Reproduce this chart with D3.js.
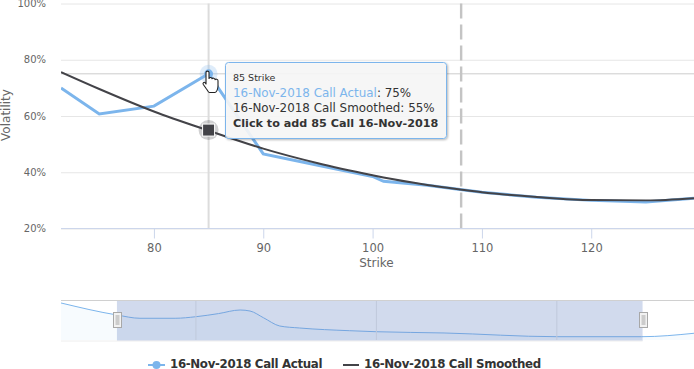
<!DOCTYPE html>
<html><head><meta charset="utf-8">
<script src="https://cdn.jsdelivr.net/npm/d3@7"></script>
<style>html,body{margin:0;padding:0;background:#fff;overflow:hidden}svg{display:block}text{font-family:"DejaVu Sans",sans-serif}</style>
</head><body><svg id="c" width="694" height="369"></svg>
<script>
const strikes=[71.5,75,80,85,90,95,100,101,105,108,110,115,120,125,129.4];
const actual=[70,60.7,63.5,75,46.5,42.5,38.5,36.8,35.4,33.9,32.9,31.1,30,29.4,30.8];
const smoothed=[75.6,69.6,61.6,54.8,48.4,43.2,38.9,38.1,35.5,33.9,32.9,31.2,30.1,30,30.8];
const navStrikes=[65.05,71.25,73.8,77.7,80,82.5,84.9,86,87.5,89.3,91.5,97,100,107.5,120,129.4,135.2];
const navValues=[86.7,66.7,61.2,61.2,63.8,69,75,73.3,62,48.3,45,40.5,38.8,36.7,30.5,30.5,36.2];
const yTicks=[20,40,60,80,100];
const xTicks=[80,90,100,110,120];
const navTicks=[80,100,120];
const names=["16-Nov-2018 Call Actual","16-Nov-2018 Call Smoothed"];
const hover={strike:85,actual:75,smoothed:55};
const spot=108.1, crossY=75, selection=[71.25,129.5];
const colA="#7cb5ec",colS="#434348",grid="#e6e6e6",axis="#ccd6eb",lab="#666666";

const svg=d3.select("#c");
const x=d3.scaleLinear().domain([71.5,129.4]).range([61,694]);
const y=d3.scaleLinear().domain([20,100]).range([228.5,3.5]);
const nx=d3.scaleLinear().domain([65.05,135.2]).range([61,694]);
const ny=d3.scaleLinear().domain([20,100]).range([343,295]);
const defs=svg.append("defs");
defs.append("clipPath").attr("id","p").append("rect").attr("x",61).attr("y",0).attr("width",633).attr("height",229);
const f=defs.append("filter").attr("id","s").attr("x","-5%").attr("y","-10%").attr("width","112%").attr("height","125%");
f.append("feDropShadow").attr("dx",1).attr("dy",1).attr("stdDeviation",1.2).attr("flood-color","#000").attr("flood-opacity",.3);

// y grid + labels
const ya=d3.axisLeft(y).tickValues(yTicks).tickSize(-633).tickPadding(15).tickFormat(d=>d+"%");
const yg=svg.append("g").attr("transform","translate(61,0)").call(ya);
yg.select(".domain").remove();
yg.selectAll("line").attr("stroke",grid);
yg.selectAll("text").attr("fill",lab).attr("font-size",10).attr("x",-15).attr("dy",".32em");
svg.append("text").attr("transform","translate(10,115) rotate(-90)").attr("text-anchor","middle").attr("fill",lab).attr("font-size",12).text("Volatility");

// x axis
const xa=d3.axisBottom(x).tickValues(xTicks).tickSize(10).tickPadding(5).tickFormat(d3.format("d"));
const xg=svg.append("g").attr("transform","translate(0,228.5)").call(xa);
xg.select(".domain").attr("stroke",axis).attr("d","M61,0H694");
xg.selectAll("line").attr("stroke",axis);
xg.selectAll("text").attr("fill",lab).attr("font-size",11.5);
svg.append("text").attr("x",376.5).attr("y",267).attr("text-anchor","middle").attr("fill",lab).attr("font-size",12).text("Strike");

// crosshairs, spot
svg.append("line").attr("x1",x(hover.strike)).attr("x2",x(hover.strike)).attr("y1",3.5).attr("y2",228).attr("stroke","#dcdcdc").attr("stroke-width",2);
svg.append("line").attr("x1",61).attr("x2",694).attr("y1",y(crossY)).attr("y2",y(crossY)).attr("stroke","#cccccc");
svg.append("line").attr("x1",x(spot)).attr("x2",x(spot)).attr("y1",3.5).attr("y2",228).attr("stroke","#c4c4c4").attr("stroke-width",2.4).attr("stroke-dasharray","15 6");

// series
const line=(xs,ys,sx,sy)=>d3.line().x((d,i)=>sx(xs[i])).y((d,i)=>sy(ys[i]))(xs);
const pl=svg.append("g").attr("clip-path","url(#p)");
pl.append("path").attr("d",line(strikes,actual,x,y)).attr("fill","none").attr("stroke",colA).attr("stroke-width",3);
const smoothLine=d3.line().curve(d3.curveMonotoneX).x((d,i)=>x(strikes[i])).y((d,i)=>y(smoothed[i]));
pl.append("path").attr("d",smoothLine(strikes)).attr("fill","none").attr("stroke",colS).attr("stroke-width",2);

// hover markers
const hx=x(hover.strike);
svg.append("circle").attr("cx",hx).attr("cy",y(hover.actual)).attr("r",9).attr("fill",colA).attr("opacity",.25);
svg.append("circle").attr("cx",hx).attr("cy",y(hover.actual)).attr("r",4.5).attr("fill",colA);
svg.append("circle").attr("cx",hx).attr("cy",y(hover.smoothed)).attr("r",10).attr("fill",colS).attr("opacity",.25);
svg.append("rect").attr("x",hx-6).attr("y",y(hover.smoothed)-6).attr("width",12).attr("height",12).attr("fill",colS).attr("stroke","#fff");

// tooltip
svg.append("rect").attr("x",225.5).attr("y",62.5).attr("width",221).attr("height",76).attr("rx",3).attr("fill","#f9f9f9").attr("fill-opacity",.88).attr("stroke",colA).attr("stroke-width",1).attr("filter","url(#s)");
const tt=svg.append("g").attr("fill","#333").attr("font-size",11.9);
tt.append("text").attr("x",233).attr("y",81).attr("font-size",9.5).text(hover.strike+" Strike");
const t1=tt.append("text").attr("x",233).attr("y",97);
t1.append("tspan").attr("fill",colA).text(names[0]);t1.append("tspan").text(": "+hover.actual+"%");
tt.append("text").attr("x",233).attr("y",112).text(names[1]+": "+hover.smoothed+"%");
tt.append("text").attr("x",233).attr("y",127).attr("font-weight","bold").attr("font-size",11.2).text("Click to add "+hover.strike+" Call 16-Nov-2018");

// cursor
svg.append("path").attr("transform","translate(203,70)").attr("fill","#fff").attr("stroke","#222").attr("stroke-width",1.1).attr("stroke-linejoin","round")
 .attr("d","M3,2.5C3,.6 6,.6 6,2.5V8.5C6.5,7.2 9,7.2 9,8.8C9.5,7.8 12,7.9 12,9.6C12.6,8.8 15,9 15,10.8V16C15,19 13.5,22.5 12,22.5H6.5C5.3,22.5 4.8,20.5 3.5,19L.3,14.5C-.6,13 1,11.5 2.2,12.8L3,14Z");

// navigator
const nl=d3.line().curve(d3.curveMonotoneX).x((d,i)=>nx(navStrikes[i])).y((d,i)=>ny(navValues[i]));
const na=d3.area().curve(d3.curveMonotoneX).x((d,i)=>nx(navStrikes[i])).y0(340).y1((d,i)=>ny(navValues[i]));
svg.append("line").attr("x1",61).attr("x2",694).attr("y1",300.5).attr("y2",300.5).attr("stroke","#d0d0d0");
svg.append("path").attr("d",na(navStrikes)).attr("fill",colA).attr("fill-opacity",.06);
svg.append("path").attr("d",nl(navStrikes)).attr("fill","none").attr("stroke",colA).attr("stroke-width",1);
svg.append("g").selectAll("line").data(navTicks).join("line").attr("x1",d=>nx(d)).attr("x2",d=>nx(d)).attr("y1",301).attr("y2",340).attr("stroke","#e6e6e6");
svg.append("rect").attr("x",nx(selection[0])).attr("y",301).attr("width",nx(selection[1])-nx(selection[0])).attr("height",40).attr("fill","#6685c2").attr("fill-opacity",.3);
svg.append("line").attr("x1",61).attr("x2",nx(selection[1])).attr("y1",341).attr("y2",341).attr("stroke","#eeeeee");
selection.forEach(s=>{const c=Math.round(nx(s))+.5;
 svg.append("rect").attr("x",c-4).attr("y",312.5).attr("width",8).attr("height",15).attr("fill","#f2f2f2").attr("stroke","#a8a8a8");
 svg.append("rect").attr("x",c-2).attr("y",315).attr("width",4).attr("height",10).attr("fill","#cccccc");
});

// legend
const lg=svg.append("g").attr("font-size",11.8).attr("font-weight","bold").attr("fill","#333").attr("letter-spacing",-0.33);
lg.append("line").attr("x1",148).attr("x2",165).attr("y1",365).attr("y2",365).attr("stroke",colA).attr("stroke-width",2);
lg.append("circle").attr("cx",156.5).attr("cy",365).attr("r",4).attr("fill",colA);
lg.append("text").attr("x",170).attr("y",367.5).text(names[0]);
lg.append("line").attr("x1",343).attr("x2",359).attr("y1",365).attr("y2",365).attr("stroke",colS).attr("stroke-width",2);
lg.append("text").attr("x",364).attr("y",367.5).text(names[1]);
</script></body></html>
